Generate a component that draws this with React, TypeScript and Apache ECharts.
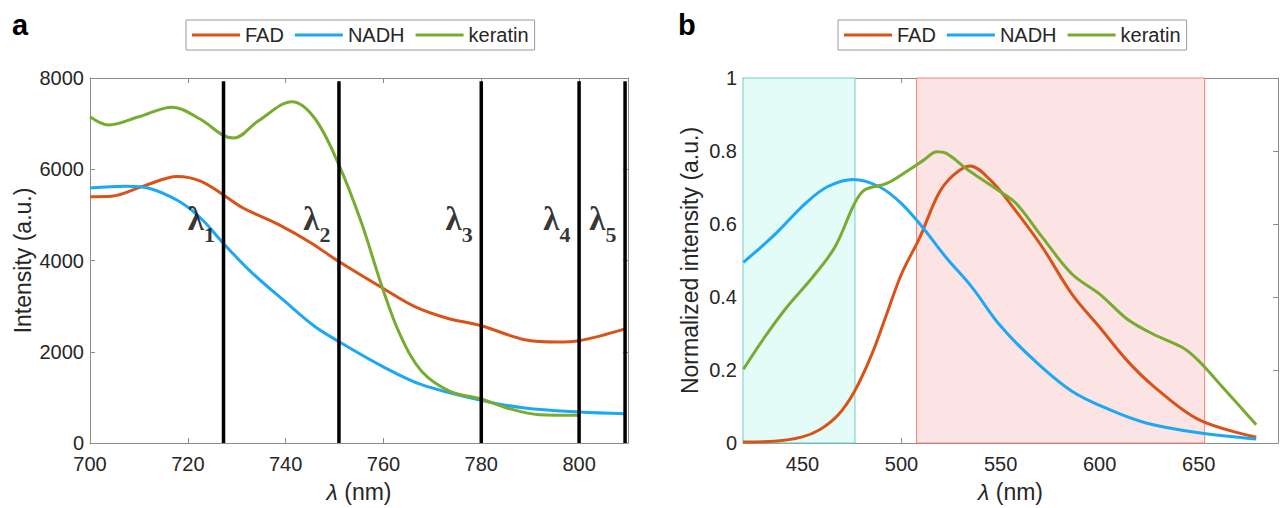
import React, { useEffect, useRef } from "react";
import * as echarts from "echarts";

// ---------- data: panel a (excitation, intensity vs wavelength) ----------
const FAD_A: [number, number][] = [
  [700, 5400], [704.4, 5410], [710.9, 5630], [717.9, 5840], [722.6, 5740], [727.2, 5443],
  [731.3, 5151], [738.6, 4785], [745.2, 4384], [750.8, 3982], [759.8, 3397], [766.3, 2995],
  [772.9, 2740], [780, 2570], [788.9, 2265], [795.5, 2215], [800, 2243], [809.4, 2500],
];
const NADH_A: [number, number][] = [
  [700, 5589], [707.3, 5626], [712.4, 5574], [718.2, 5297], [722.6, 4931], [727.2, 4384],
  [732.8, 3763], [740.1, 3080], [745.9, 2560], [750.8, 2228], [759.8, 1680], [767.8, 1279],
  [780, 935], [788.9, 767], [800, 680], [809.4, 643],
];
const KERATIN_A: [number, number][] = [
  [700, 7150], [703.8, 6970], [710, 7150], [716.8, 7360], [722.5, 7100], [727.2, 6743],
  [729.4, 6685], [734.3, 7050], [741.3, 7480], [745.9, 7123], [750.8, 6120], [755.4, 4858],
  [759.8, 3397], [763.4, 2374], [767.8, 1571], [773.6, 1132], [780, 964], [785.3, 767],
  [791.8, 621], [800, 606],
];
const LAMBDA_NM = [727.3, 750.9, 780, 800, 809.4];
const LAMBDA_SUBS = ["1", "2", "3", "4", "5"];
const LAMBDA_LINE_TOP = 7930;
const LAMBDA_LABEL_Y = 4900;

const A_X_TICKS = [700, 720, 740, 760, 780, 800];
const A_Y_TICKS = [0, 2000, 4000, 6000, 8000];

// ---------- data: panel b (normalized emission) ----------
const FAD_B: [number, number][] = [
  [420, 0.003], [436, 0.005], [449.5, 0.016], [458.9, 0.037], [468.2, 0.078], [476.3, 0.142],
  [485, 0.243], [492.5, 0.353], [500, 0.463], [509.3, 0.564], [518.7, 0.683], [526.2, 0.734],
  [534.6, 0.759], [544.9, 0.72], [556.1, 0.647], [571, 0.537], [586, 0.408], [600, 0.317],
  [614, 0.225], [627.1, 0.156], [650, 0.064], [679, 0.016],
];
const NADH_B: [number, number][] = [
  [420.2, 0.495], [436.4, 0.573], [451.4, 0.656], [462.6, 0.702], [475.7, 0.722], [488.8, 0.702],
  [500, 0.656], [511.2, 0.587], [522.4, 0.509], [535.5, 0.427], [549.9, 0.321], [567.3, 0.225],
  [586, 0.142], [604.7, 0.092], [623.4, 0.055], [650, 0.028], [679, 0.011],
];
const KERATIN_B: [number, number][] = [
  [420.2, 0.202], [430.8, 0.289], [442.1, 0.372], [455.1, 0.454], [466.4, 0.537], [476.3, 0.656],
  [481.3, 0.693], [492.5, 0.711], [503.7, 0.748], [511.2, 0.775], [517.8, 0.798], [522.4, 0.794],
  [533.6, 0.748], [548.6, 0.693], [557.9, 0.656], [571, 0.564], [586, 0.463], [600, 0.408],
  [614, 0.339], [627.1, 0.298], [642, 0.261], [650, 0.225], [660.7, 0.161], [679, 0.05],
];
const NADH_BAND = [420, 476.5];
const FAD_BAND = [507.6, 653];

const B_X_TICKS = [450, 500, 550, 600, 650];
const B_Y_TICKS = [0, 0.2, 0.4, 0.6, 0.8, 1];

const SERIES_NAMES = ["FAD", "NADH", "keratin"];

// ---------- styles ----------
const FAD_COLOR = "#D95319";
const NADH_COLOR = "#1CA8F2";
const KERATIN_COLOR = "#77AC30";
const FONT = "'Liberation Sans', Arial, Helvetica, sans-serif";
const SERIF = "'Liberation Serif', 'Times New Roman', serif";
const AXIS_COLOR = "#8c8c8c";
const TEXT_COLOR = "#262626";
const TICK_FONT = 20;
const NAME_FONT = 23;

function xAxis(grid: number, min: number, max: number, ticks: number[], top: boolean, name?: string) {
  return {
    type: "value",
    gridIndex: grid,
    min,
    max,
    position: top ? "top" : "bottom",
    axisLine: { show: true, onZero: false, lineStyle: { color: AXIS_COLOR, width: 1 } },
    axisTick: { show: true, inside: true, length: 5, customValues: ticks, lineStyle: { color: AXIS_COLOR } },
    axisLabel: top
      ? { show: false }
      : { show: true, customValues: ticks, fontSize: TICK_FONT, color: TEXT_COLOR, margin: 11, fontFamily: FONT },
    splitLine: { show: false },
    name: top ? undefined : name,
    nameLocation: "middle",
    nameGap: 37,
    nameTextStyle: {
      fontSize: NAME_FONT,
      color: TEXT_COLOR,
      fontFamily: FONT,
      rich: { i: { fontSize: NAME_FONT, fontStyle: "italic", color: TEXT_COLOR, fontFamily: FONT } },
    },
  };
}

function yAxis(grid: number, min: number, max: number, ticks: number[], right: boolean, name?: string, gap?: number) {
  return {
    type: "value",
    gridIndex: grid,
    min,
    max,
    position: right ? "right" : "left",
    axisLine: { show: true, onZero: false, lineStyle: { color: AXIS_COLOR, width: 1 } },
    axisTick: { show: true, inside: true, length: 5, customValues: ticks, lineStyle: { color: AXIS_COLOR } },
    axisLabel: right
      ? { show: false }
      : {
          show: true,
          customValues: ticks,
          fontSize: TICK_FONT,
          color: TEXT_COLOR,
          margin: 6,
          fontFamily: FONT,
          formatter: (v: number) => String(v),
        },
    splitLine: { show: false },
    name: right ? undefined : name,
    nameLocation: "middle",
    nameGap: gap ?? 50,
    nameTextStyle: { fontSize: NAME_FONT, color: TEXT_COLOR, fontFamily: FONT },
  };
}

function curve(name: string, color: string, data: [number, number][], xi: number, yi: number) {
  return {
    name,
    type: "line",
    xAxisIndex: xi,
    yAxisIndex: yi,
    data,
    smooth: 0.35,
    showSymbol: false,
    symbol: "none",
    lineStyle: { color, width: 3 },
    itemStyle: { color },
    z: 3,
  };
}

function legend(left: number) {
  return {
    left,
    top: 20,
    orient: "horizontal",
    data: SERIES_NAMES.map((n) => ({ name: n, icon: "rect" })),
    itemWidth: 48,
    itemHeight: 3,
    itemGap: 11,
    padding: [5, 6, 5, 6],
    borderColor: "#9a9a9a",
    borderWidth: 1,
    textStyle: { fontSize: 20, color: TEXT_COLOR, fontFamily: FONT },
    selectedMode: false,
  };
}

export default function App() {
  const ref = useRef<HTMLDivElement>(null);

  useEffect(() => {
    if (!ref.current) return;
    const chart = echarts.init(ref.current, undefined, { renderer: "svg" });

    const lambdaLines = LAMBDA_NM.map((x, i) => ({
      name: "lambda" + LAMBDA_SUBS[i],
      type: "line",
      xAxisIndex: 0,
      yAxisIndex: 0,
      data: [
        [x, 0],
        [x, LAMBDA_LINE_TOP],
      ],
      showSymbol: false,
      symbol: "none",
      lineStyle: { color: "#000", width: 3.5 },
      z: 4,
    }));

    const option = {
      animation: false,
      textStyle: { fontFamily: FONT },
      grid: [
        { left: 90, top: 78, width: 538, height: 365 },
        { left: 743, top: 78, width: 535, height: 365 },
      ],
      legend: [legend(186), legend(838)],
      xAxis: [
        xAxis(0, 700, 810, A_X_TICKS, false, "{i|λ} (nm)"),
        xAxis(0, 700, 810, A_X_TICKS, true),
        xAxis(1, 420, 690, B_X_TICKS, false, "{i|λ} (nm)"),
        xAxis(1, 420, 690, B_X_TICKS, true),
      ],
      yAxis: [
        yAxis(0, 0, 8000, A_Y_TICKS, false, "Intensity (a.u.)", 56),
        yAxis(0, 0, 8000, A_Y_TICKS, true),
        yAxis(1, 0, 1, B_Y_TICKS, false, "Normalized intensity (a.u.)", 42),
        yAxis(1, 0, 1, B_Y_TICKS, true),
      ],
      graphic: [
        { type: "text", left: 12, top: 10, style: { text: "a", fontSize: 29, fontWeight: "bold", fill: "#000", fontFamily: FONT } },
        { type: "text", left: 678, top: 10, style: { text: "b", fontSize: 29, fontWeight: "bold", fill: "#000", fontFamily: FONT } },
      ],
      series: [
        curve("FAD", FAD_COLOR, FAD_A, 0, 0),
        curve("NADH", NADH_COLOR, NADH_A, 0, 0),
        curve("keratin", KERATIN_COLOR, KERATIN_A, 0, 0),
        ...lambdaLines,
        {
          name: "lambdaLabels",
          type: "scatter",
          xAxisIndex: 0,
          yAxisIndex: 0,
          symbolSize: 1,
          itemStyle: { color: "rgba(0,0,0,0)" },
          data: LAMBDA_NM.map((x, i) => ({
            value: [x, LAMBDA_LABEL_Y],
            label: { formatter: "{l|λ}{s|" + LAMBDA_SUBS[i] + "}" },
          })),
          label: {
            show: true,
            position: "left",
            distance: 8,
            rich: {
              l: { fontFamily: SERIF, fontWeight: "bold", fontSize: 33, color: "#000" },
              s: { fontFamily: SERIF, fontWeight: "bold", fontSize: 22, color: "#000", padding: [30, 0, 0, 0] },
            },
          },
          z: 5,
        },
        {
          name: "bands",
          type: "line",
          xAxisIndex: 2,
          yAxisIndex: 2,
          data: [[NADH_BAND[0], 0]],
          showSymbol: false,
          symbol: "none",
          lineStyle: { opacity: 0 },
          z: 1,
          markArea: {
            silent: true,
            z: 1,
            data: [
              [
                { xAxis: NADH_BAND[0], yAxis: 0, itemStyle: { color: "#E4FCF7", borderColor: "#6FCDCB", borderWidth: 1 } },
                { xAxis: NADH_BAND[1], yAxis: 1 },
              ],
              [
                { xAxis: FAD_BAND[0], yAxis: 0, itemStyle: { color: "#FDE4E4", borderColor: "#EE8474", borderWidth: 1 } },
                { xAxis: FAD_BAND[1], yAxis: 1 },
              ],
            ],
          },
        },
        curve("FAD", FAD_COLOR, FAD_B, 2, 2),
        curve("NADH", NADH_COLOR, NADH_B, 2, 2),
        curve("keratin", KERATIN_COLOR, KERATIN_B, 2, 2),
      ],
    };

    chart.setOption(option as any);
    return () => chart.dispose();
  }, []);

  return (
    <div
      ref={ref}
      style={{ position: "fixed", left: 0, top: 0, width: 1284, height: 508, background: "#fff" }}
    />
  );
}
